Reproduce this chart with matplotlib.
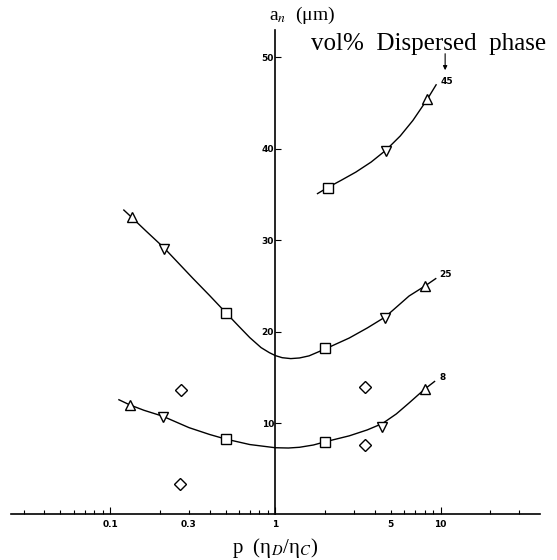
import numpy as np
import matplotlib
matplotlib.use('Agg')
import matplotlib.pyplot as plt

plt.rcParams['mathtext.fontset'] = 'stix'

# measured points, per volume fraction of dispersed phase
sq45_x, sq45_y = [2.07], [35.75]
dn45_x, dn45_y = [4.67], [39.8]
up45_x, up45_y = [8.3], [45.4]

sq25_x, sq25_y = [0.5, 2.0], [22.05, 18.2]
dn25_x, dn25_y = [0.211, 4.62], [29.0, 21.5]
up25_x, up25_y = [0.135, 8.06], [32.5, 24.96]

sq8_x, sq8_y = [0.5, 2.0], [8.24, 7.98]
dn8_x, dn8_y = [0.208, 4.45], [10.65, 9.55]
up8_x, up8_y = [0.131, 8.0], [12.0, 13.7]

dia_x = [0.269, 0.263, 3.48, 3.5]
dia_y = [13.6, 3.3, 13.9, 7.6]

# hand-drawn trend curves
curve45_x = [1.80, 2.07, 2.5, 3.07, 3.8, 4.67, 5.7, 6.8, 8.3, 9.4]
curve45_y = [35.1, 35.75, 36.55, 37.45, 38.55, 39.85, 41.4, 43.1, 45.4, 47.0]

curve25_x = [0.121, 0.135, 0.165, 0.211, 0.316, 0.4, 0.5, 0.6, 0.7, 0.82, 0.92,
             1.0, 1.1, 1.24, 1.4, 1.6, 2.0, 2.8, 3.6, 4.62, 5.5, 6.45, 8.06, 9.35]
curve25_y = [33.3, 32.5, 31.0, 29.2, 25.85, 23.95, 22.1, 20.6, 19.35, 18.25, 17.7,
             17.38, 17.15, 17.05, 17.12, 17.35, 18.1, 19.3, 20.4, 21.6, 22.8, 23.9, 25.0, 25.8]

curve8_x = [0.113, 0.131, 0.16, 0.208, 0.3, 0.4, 0.5, 0.7, 1.0, 1.2, 1.4, 1.7, 2.0,
            2.8, 3.6, 4.45, 5.4, 6.45, 8.0, 9.2]
curve8_y = [12.55, 12.0, 11.4, 10.75, 9.5, 8.75, 8.25, 7.65, 7.3, 7.27, 7.35, 7.6, 7.95,
            8.6, 9.25, 9.95, 11.0, 12.2, 13.7, 14.55]

curve_labels = ['45', '25', '8']
label_x = [10.9, 10.7, 10.35]
label_y = [47.4, 26.3, 15.0]

major_ticks = [0.1, 1, 10]
major_labels = ['0.1', '1', '10']
minor_ticks = [0.03, 0.04, 0.05, 0.06, 0.07, 0.08, 0.09,
               0.2, 0.3, 0.4, 0.5, 0.6, 0.7, 0.8, 0.9,
               2, 3, 4, 5, 6, 7, 8, 9, 20, 30]
minor_labels = ['0.3' if t == 0.3 else '5' if t == 5 else '' for t in minor_ticks]
y_ticks = [10, 20, 30, 40, 50]

fig = plt.figure(figsize=(5.57, 5.60), dpi=100)
ax = fig.add_axes([0.0192, 0.0813, 0.9503, 0.8652])
ax.set_xscale('log')
ax.set_xlim(0.025, 40)
ax.set_ylim(0, 53)

for cx, cy in [(curve45_x, curve45_y), (curve25_x, curve25_y), (curve8_x, curve8_y)]:
    ax.plot(cx, cy, color='black', lw=1.0, zorder=2)

mk = dict(ls='none', mfc='white', mec='black', mew=1.0, zorder=3)
for x, y in [(sq45_x, sq45_y), (sq25_x, sq25_y), (sq8_x, sq8_y)]:
    ax.plot(x, y, marker='s', ms=7, **mk)
for x, y in [(dn45_x, dn45_y), (dn25_x, dn25_y), (dn8_x, dn8_y)]:
    ax.plot(x, y, marker='v', ms=7, **mk)
for x, y in [(up45_x, up45_y), (up25_x, up25_y), (up8_x, up8_y)]:
    ax.plot(x, y, marker='^', ms=7, **mk)
ax.plot(dia_x, dia_y, marker='D', ms=6.5, **mk)

for t, x, y in zip(curve_labels, label_x, label_y):
    ax.text(x, y, t, fontsize=6.5, fontweight='bold', ha='center', va='center')
ax.annotate('', xy=(10.66, 48.6), xytext=(10.66, 50.4),
            arrowprops=dict(arrowstyle='-|>', color='black', lw=0.8,
                            mutation_scale=6, shrinkA=0, shrinkB=0))

for s in ['top', 'right']:
    ax.spines[s].set_visible(False)
ax.spines['left'].set_position(('data', 1))
ax.spines['left'].set_linewidth(1.2)
ax.spines['bottom'].set_linewidth(1.2)

ax.set_xticks(major_ticks, labels=major_labels)
ax.set_xticks(minor_ticks, labels=minor_labels, minor=True)
ax.set_yticks(y_ticks)
ax.tick_params(axis='x', which='major', direction='in', length=5, width=0.8, pad=4)
ax.tick_params(axis='x', which='minor', direction='in', length=3, width=0.8, pad=4)
ax.tick_params(axis='y', direction='in', length=4, width=0.8, pad=1)
for lab in ax.get_xticklabels(which='both') + ax.get_yticklabels():
    lab.set_fontsize(6.5)
    lab.set_fontweight('bold')

fig.text(302 / 557, 1 - 15 / 560, r'a$_{n}$  (μm)', family='Liberation Serif',
         fontsize=14, ha='center', va='center')
fig.text(429 / 557, 1 - 44 / 560, 'vol%  Dispersed  phase', family='Liberation Serif',
         fontsize=18, ha='center', va='center')
fig.text(275 / 557, 1 - 548 / 560, r'p  (η$_{D}$/η$_{C}$)', family='Liberation Serif',
         fontsize=15, ha='center', va='center')

fig.savefig('out.png', dpi=100)
plt.close(fig)
